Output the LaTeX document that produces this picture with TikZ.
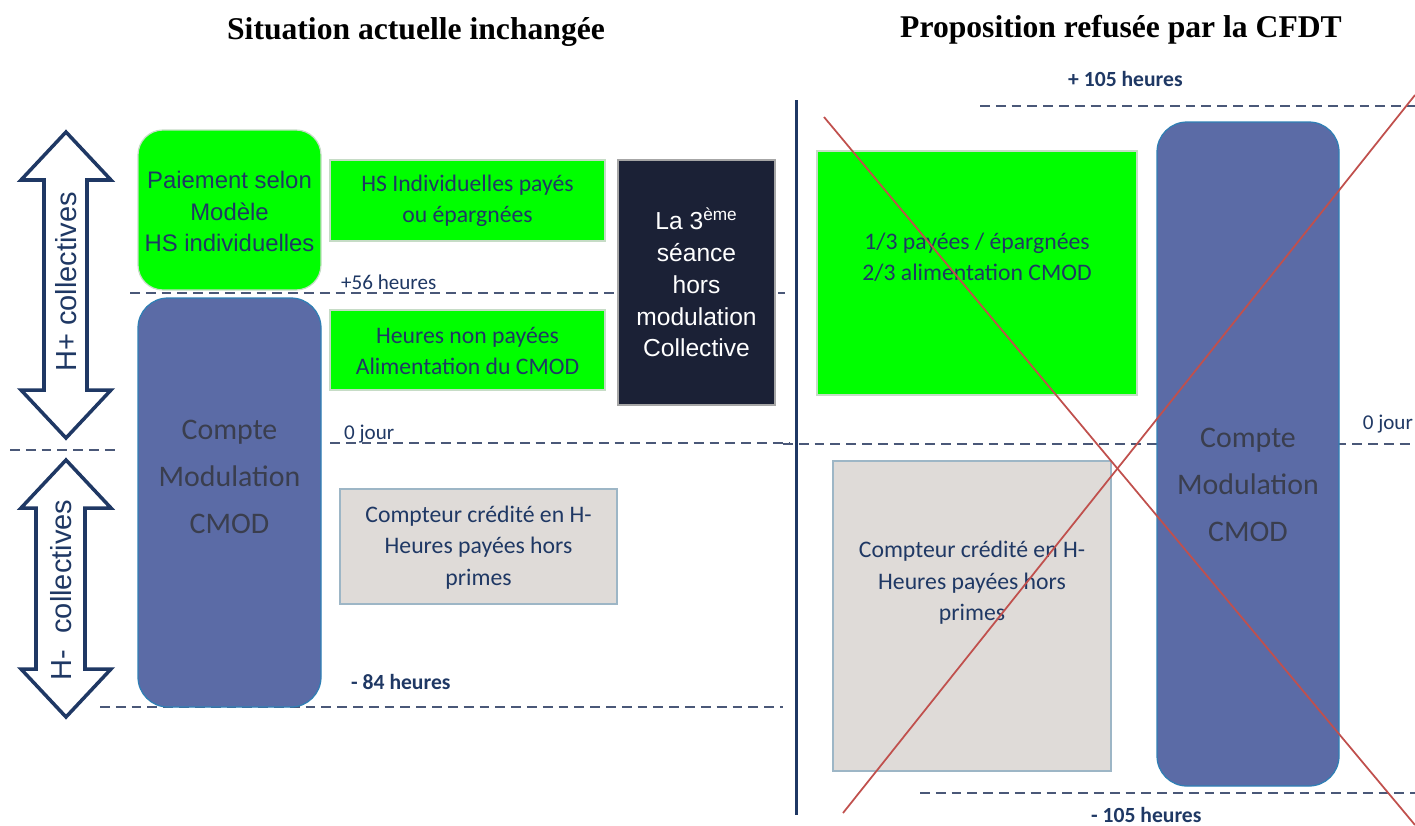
\documentclass[tikz,border=0pt]{standalone}
\usepackage{fontspec}
\setmainfont{Liberation Serif}
\newfontfamily\arialfont{Liberation Sans}
\newfontfamily\calfont{Carlito}
\usepackage{tikz}

\definecolor{navy}{HTML}{1F3864}
\definecolor{dashc}{HTML}{4A5878}
\definecolor{cmodblue}{HTML}{5B6BA6}
\definecolor{cmodedge}{HTML}{2F7FB5}
\definecolor{cmodtextc}{HTML}{3A3E4E}
\definecolor{greyfill}{HTML}{DFDBD8}
\definecolor{greyedge}{HTML}{9DB6C6}
\definecolor{greenedge}{HTML}{C6DCC6}
\definecolor{darkbox}{HTML}{1B2136}
\definecolor{crossred}{HTML}{C0504D}

\tikzset{
  level/.style={draw=dashc, line width=1.1pt, dash pattern=on 5.6pt off 3.4pt},
  greenbox/.style={draw=greenedge, fill=green, line width=0.7pt},
  greybox/.style={draw=greyedge, fill=greyfill, line width=0.7pt},
  cmodbox/.style={draw=cmodedge, fill=cmodblue, line width=0.7pt, rounded corners=0.6cm},
  arrowbox/.style={draw=navy, fill=white, line width=2pt, line join=miter},
  boxtext/.style={align=center, text=navy, font=\calfont\fontsize{13.5}{17.9}\selectfont},
  cmodtext/.style={align=center, text=cmodtextc, font=\calfont\fontsize{17}{26.7}\selectfont},
  levellabel/.style={anchor=base west, text=navy, font=\calfont\fontsize{12}{14}\selectfont},
  boldlabel/.style={anchor=base west, text=navy, font=\calfont\bfseries\fontsize{12.3}{14}\selectfont},
  titletext/.style={font=\bfseries\fontsize{18}{22}\selectfont}
}

\begin{document}
\begin{tikzpicture}[x=0.02cm, y=-0.02cm]
    \useasboundingbox (0,0) rectangle (1415,825);

    % titles
    \node[titletext] (tleft) at (416,32) {Situation actuelle inchangée};
    \node[titletext] (tright) at (1121,30) {Proposition refusée par la CFDT};

    % levels
    \draw[level] (10,450) -- (115,450);
    \draw[level] (130,293) -- (785,293);
    \draw[level] (330,443) -- (790,443);
    \draw[level] (100,707) -- (783,707);
    \draw[level] (980,106) -- (1415,106);
    \draw[level] (783,444) -- (1415,444);
    \draw[level] (920,793) -- (1415,793);

    \node[levellabel] (lbl56) at (335,289) {+56 heures};
    \node[levellabel] (lbl0l) at (338,439) {0 jour};
    \node[boldlabel] (lbl84) at (345,689) {- 84 heures};
    \node[boldlabel] (lbl105p) at (1062,86) {+ 105 heures};
    \node[levellabel, anchor=base east, inner xsep=1pt] (lbl0r) at (1415,429) {0 jour};
    \node[boldlabel] (lbl105m) at (1085,822) {- 105 heures};

    % hollow double arrows
    \draw[arrowbox] (66,132) -- (111,180) -- (87,180) -- (87,390) -- (111,390) -- (66,438)
        -- (21,390) -- (44,390) -- (44,180) -- (21,180) -- cycle;
    \draw[arrowbox] (66,460) -- (111,508) -- (85,508) -- (85,669) -- (111,669) -- (66,717)
        -- (21,669) -- (36,669) -- (36,508) -- (21,508) -- cycle;
    \node[rotate=90, text=navy, font=\arialfont\fontsize{16.5}{18}\selectfont] (hplus) at (66,282) {H+ collectives};
    \node[rotate=90, text=navy, font=\arialfont\fontsize{16.5}{18}\selectfont] (hmoins) at (61,590) {H-\ \ collectives};

    % left part
    \draw[greenbox, rounded corners=0.5cm] (138,130) rectangle (321,290);
    \node[align=center, text=navy, font=\arialfont\fontsize{13.6}{17.9}\selectfont] (paiement) at (229.5,211.5)
        {Paiement selon\\Modèle\\HS individuelles};

    \draw[cmodbox] (138,298) rectangle (321,707);
    \node[cmodtext] (cmodleft) at (229.5,477) {Compte\\Modulation\\CMOD};

    \draw[greenbox] (330,160) rectangle (605,241);
    \node[boxtext] (hsindiv) at (467.5,201) {HS Individuelles payés\\ou épargnées};

    \draw[greenbox] (330,310) rectangle (605,390);
    \node[boxtext] (nonpayees) at (467.5,351) {Heures non payées\\Alimentation du CMOD};

    \draw[draw=gray!70, fill=darkbox, line width=0.7pt] (618,160) rectangle (775,405);
    \node[align=center, text=white, font=\arialfont\fontsize{14}{18.1}\selectfont] (seance) at (696.5,282.5)
        {La 3\textsuperscript{ème}\\séance\\hors\\modulation\\Collective};

    \draw[greybox] (340,489) rectangle (617,604);
    \node[boxtext] (compteurleft) at (478.5,547.5) {Compteur crédité en H-\\Heures payées hors\\primes};

    % divider
    \draw[draw=navy, line width=1.7pt] (796,100) -- (796,815);

    % right part
    \draw[greenbox] (817,151) rectangle (1137,395);
    \node[boxtext] (tiers) at (977,257) {1/3 payées / épargnées\\2/3 alimentation CMOD};

    \draw[greybox] (833,461) rectangle (1111,771);
    \node[boxtext] (compteurright) at (972,583) {Compteur crédité en H-\\Heures payées hors\\primes};

    \draw[cmodbox] (1157,122) rectangle (1339,786);
    \node[cmodtext] (cmodright) at (1248,485) {Compte\\Modulation\\CMOD};

    % red cross
    \coordinate (crossA) at (824,117);
    \coordinate (crossB) at (1415,825);
    \coordinate (crossC) at (1415,95);
    \coordinate (crossD) at (843,813);
    \draw[crossred, line width=1pt] (crossA) -- (crossB);
    \draw[crossred, line width=1pt] (crossC) -- (crossD);
\end{tikzpicture}
\end{document}
